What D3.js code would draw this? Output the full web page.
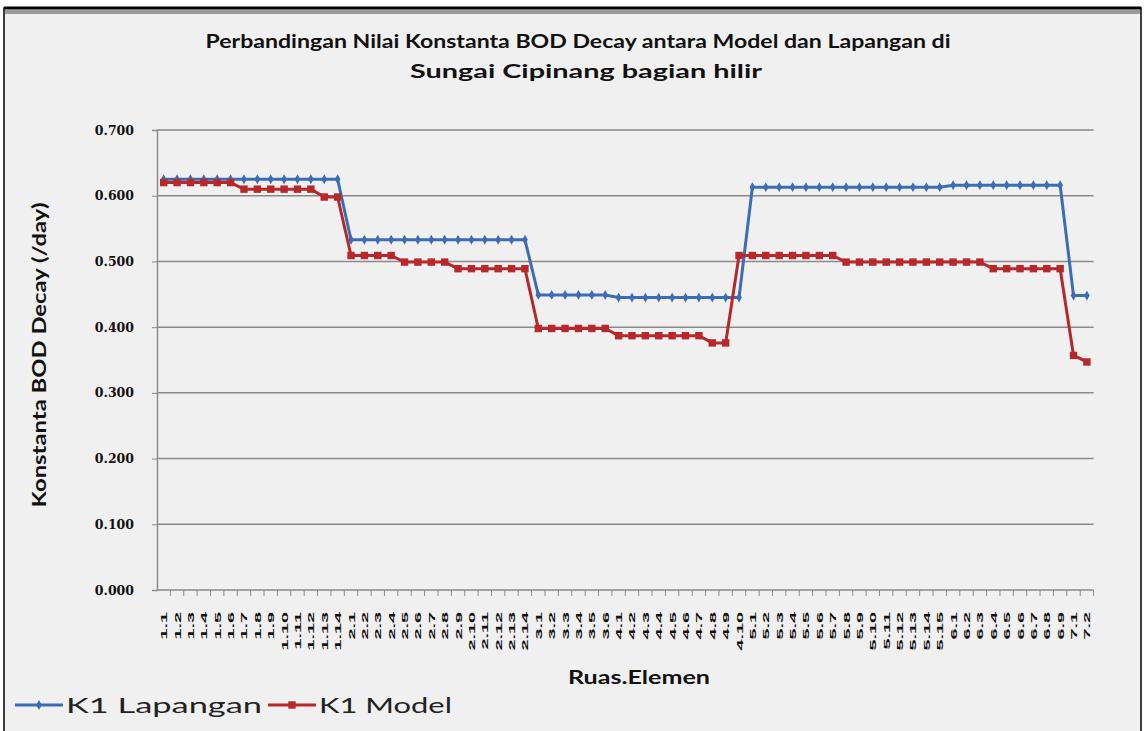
<!DOCTYPE html>
<html>
<head>
<meta charset="utf-8">
<script src="https://cdn.jsdelivr.net/npm/d3@7"></script>
<style>
  body { margin: 0; background: #fff; }
  svg { display: block; }
</style>
</head>
<body>
<div class="chart"></div>
<script>
// Ruas.Elemen categories: number of elements per ruas
const ruasCounts = [14, 14, 6, 10, 15, 9, 2];
const categories = ruasCounts.flatMap((n, r) => d3.range(1, n + 1).map(e => `${r + 1}.${e}`));

// K1 Lapangan (blue)
const k1Lapangan = [
  0.625, 0.625, 0.625, 0.625, 0.625, 0.625, 0.625, 0.625, 0.625, 0.625, 0.625, 0.625, 0.625, 0.625,
  0.533, 0.533, 0.533, 0.533, 0.533, 0.533, 0.533, 0.533, 0.533, 0.533, 0.533, 0.533, 0.533, 0.533,
  0.449, 0.449, 0.449, 0.449, 0.449, 0.449,
  0.445, 0.445, 0.445, 0.445, 0.445, 0.445, 0.445, 0.445, 0.445, 0.445,
  0.613, 0.613, 0.613, 0.613, 0.613, 0.613, 0.613, 0.613, 0.613, 0.613, 0.613, 0.613, 0.613, 0.613, 0.613,
  0.616, 0.616, 0.616, 0.616, 0.616, 0.616, 0.616, 0.616, 0.616,
  0.448, 0.448
];

// K1 Model (red)
const k1Model = [
  0.620, 0.620, 0.620, 0.620, 0.620, 0.620, 0.610, 0.610, 0.610, 0.610, 0.610, 0.610, 0.598, 0.598,
  0.509, 0.509, 0.509, 0.509, 0.499, 0.499, 0.499, 0.499, 0.489, 0.489, 0.489, 0.489, 0.489, 0.489,
  0.398, 0.398, 0.398, 0.398, 0.398, 0.398,
  0.387, 0.387, 0.387, 0.387, 0.387, 0.387, 0.387, 0.376, 0.376, 0.509,
  0.509, 0.509, 0.509, 0.509, 0.509, 0.509, 0.509, 0.499, 0.499, 0.499, 0.499, 0.499, 0.499, 0.499, 0.499,
  0.499, 0.499, 0.499, 0.489, 0.489, 0.489, 0.489, 0.489, 0.489,
  0.357, 0.347
];

const yTicks = [0, 0.1, 0.2, 0.3, 0.4, 0.5, 0.6, 0.7];

const W = 1147, H = 731;
const plot = { left: 157, right: 157 + 13.38 * categories.length, top: 130, bottom: 590 };

const svg = d3.select(".chart").append("svg")
  .attr("width", W)
  .attr("height", H);

// outer frame
svg.append("rect").attr("x", 0).attr("y", 0).attr("width", W).attr("height", H).attr("fill", "#fff");
svg.append("rect")
  .attr("x", 4).attr("y", 8).attr("width", 1137).attr("height", 730)
  .attr("fill", "#f0f0f0").attr("stroke", "#000").attr("stroke-width", 1.5);
svg.append("line").attr("x1", 4).attr("x2", 1141).attr("y1", 8).attr("y2", 8)
  .attr("stroke", "#000").attr("stroke-width", 3);
svg.append("rect").attr("x", 5).attr("y", 10).attr("width", 1135).attr("height", 4).attr("fill", "#9a9a9a");

const x = d3.scaleBand().domain(categories).range([plot.left, plot.right]).padding(0);
const y = d3.scaleLinear().domain([0, 0.7]).range([plot.bottom, plot.top]);

// gridlines
svg.append("g")
  .selectAll("line")
  .data(yTicks.slice(1))
  .enter().append("line")
  .attr("x1", plot.left).attr("x2", plot.right)
  .attr("y1", d => y(d)).attr("y2", d => y(d))
  .attr("stroke", "#8a8a8a").attr("stroke-width", 1.5);

// y axis
const yAxis = svg.append("g")
  .attr("transform", `translate(${plot.left},0)`)
  .call(d3.axisLeft(y).tickValues(yTicks).tickFormat(d3.format(".3f")).tickSize(5).tickPadding(18));
yAxis.select(".domain").attr("stroke", "#8a8a8a").attr("stroke-width", 1.5);
yAxis.selectAll(".tick line").attr("stroke", "#8a8a8a");
yAxis.selectAll("text")
  .attr("font-family", "DejaVu Serif, serif")
  .attr("font-weight", "bold")
  .attr("font-size", 12.5)
  .attr("fill", "#111");

// x axis (ticks between categories)
const xAxis = svg.append("g")
  .attr("transform", `translate(0,${plot.bottom})`);
xAxis.append("line")
  .attr("x1", plot.left).attr("x2", plot.right)
  .attr("stroke", "#8a8a8a").attr("stroke-width", 1.5);
xAxis.selectAll(".xtick")
  .data(categories)
  .enter().append("line")
  .attr("x1", d => x(d) + x.bandwidth()).attr("x2", d => x(d) + x.bandwidth())
  .attr("y1", 0).attr("y2", 6)
  .attr("stroke", "#8a8a8a");
xAxis.selectAll(".xlabel")
  .data(categories)
  .enter().append("text")
  .attr("transform", d => `translate(${x(d) + x.bandwidth() / 2 + 3.5},${22}) scale(1,2.2) rotate(-90)`)
  .attr("text-anchor", "end")
  .attr("font-family", "Liberation Sans, Arial, sans-serif")
  .attr("font-weight", "bold")
  .attr("font-size", 9)
  .attr("fill", "#111")
  .text(d => d);

// lines
const line = d3.line()
  .x((d, i) => x(categories[i]) + x.bandwidth() / 2)
  .y(d => y(d));

const series = [
  { name: "K1 Lapangan", values: k1Lapangan, color: "#3a6db5", marker: "diamond", textLen: 196 },
  { name: "K1 Model", values: k1Model, color: "#b8282b", marker: "square", textLen: 133 }
];

series.forEach(s => {
  svg.append("path")
    .datum(s.values)
    .attr("d", line)
    .attr("fill", "none")
    .attr("stroke", s.color)
    .attr("stroke-width", 3)
    .attr("stroke-linejoin", "round");
  const sym = s.marker === "diamond" ? d3.symbol().type(d3.symbolDiamond).size(28)
                                      : d3.symbol().type(d3.symbolSquare).size(55);
  svg.append("g")
    .selectAll("path")
    .data(s.values)
    .enter().append("path")
    .attr("d", sym)
    .attr("transform", (d, i) => `translate(${x(categories[i]) + x.bandwidth() / 2},${y(d)})`)
    .attr("fill", s.color);
});

// titles
svg.append("text")
  .attr("x", 578).attr("y", 48)
  .attr("text-anchor", "middle")
  .attr("font-family", "Lato, sans-serif")
  .attr("font-weight", "bold")
  .attr("font-size", 19)
  .attr("textLength", 745).attr("lengthAdjust", "spacingAndGlyphs")
  .attr("fill", "#111")
  .text("Perbandingan Nilai Konstanta BOD Decay antara Model dan Lapangan di");
svg.append("text")
  .attr("x", 586).attr("y", 78)
  .attr("text-anchor", "middle")
  .attr("font-family", "Lato, sans-serif")
  .attr("font-weight", "bold")
  .attr("font-size", 19)
  .attr("textLength", 352).attr("lengthAdjust", "spacingAndGlyphs")
  .attr("fill", "#111")
  .text("Sungai Cipinang bagian hilir");

// axis titles
svg.append("text")
  .attr("transform", `translate(46,${355}) rotate(-90)`)
  .attr("text-anchor", "middle")
  .attr("font-family", "Lato, sans-serif")
  .attr("font-weight", "bold")
  .attr("font-size", 18)
  .attr("textLength", 305).attr("lengthAdjust", "spacingAndGlyphs")
  .attr("fill", "#111")
  .text("Konstanta BOD Decay (/day)");
svg.append("text")
  .attr("x", 639).attr("y", 684)
  .attr("text-anchor", "middle")
  .attr("font-family", "Lato, sans-serif")
  .attr("font-weight", "bold")
  .attr("font-size", 19)
  .attr("textLength", 142).attr("lengthAdjust", "spacingAndGlyphs")
  .attr("fill", "#111")
  .text("Ruas.Elemen");

// legend
const legendX = [15, 268];
series.forEach((s, i) => {
  const g = svg.append("g").attr("transform", `translate(${legendX[i]},705)`);
  g.append("line").attr("x1", 0).attr("x2", 48).attr("stroke", s.color).attr("stroke-width", 3);
  const sym = s.marker === "diamond" ? d3.symbol().type(d3.symbolDiamond).size(28)
                                      : d3.symbol().type(d3.symbolSquare).size(55);
  g.append("path").attr("d", sym).attr("transform", "translate(24,0)").attr("fill", s.color);
  g.append("text")
    .attr("x", 51).attr("y", 8)
    .attr("font-family", "Lato, sans-serif")
    .attr("font-size", 21)
    .attr("textLength", s.textLen).attr("lengthAdjust", "spacingAndGlyphs")
    .attr("fill", "#222")
    .text(s.name);
});
</script>
</body>
</html>
